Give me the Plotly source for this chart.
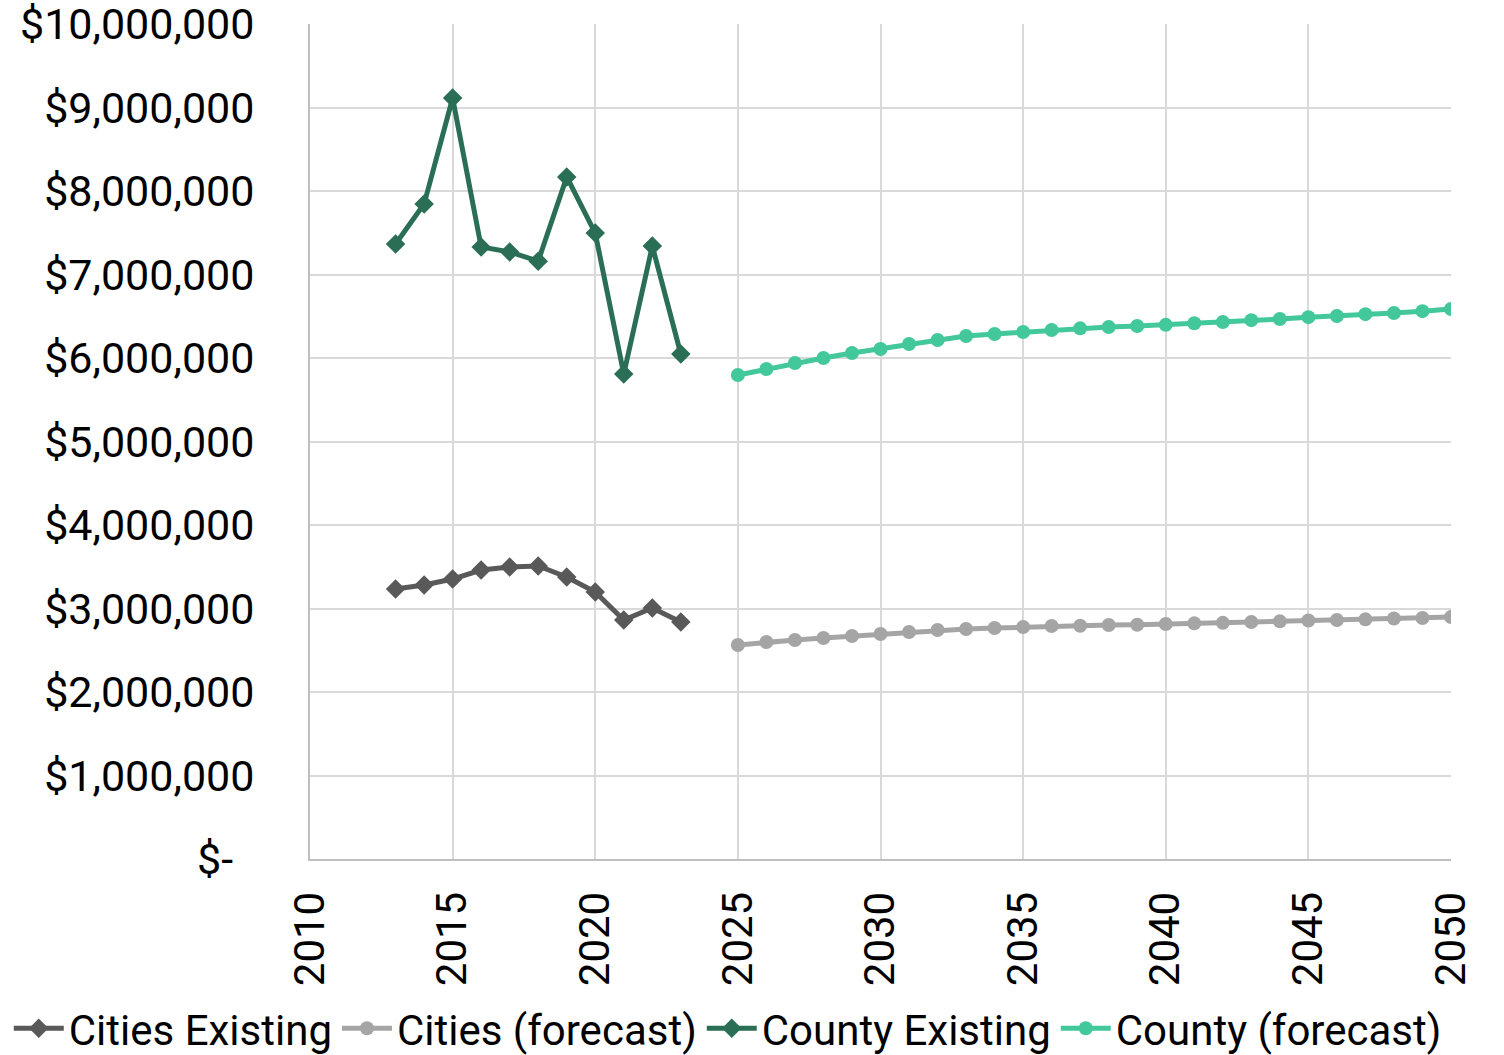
import plotly.graph_objects as go

years_existing = list(range(2013, 2024))
years_forecast = list(range(2025, 2051))

cities_existing = [3234000, 3281000, 3353000, 3461000, 3497000, 3509000, 3377000, 3198000, 2862000, 3006000, 2838000]
county_existing = [7365000, 7844000, 9114000, 7330000, 7270000, 7160000, 8168000, 7497000, 5808000, 7341000, 6048000]

cities_forecast = [2563000, 2599000, 2623000, 2647000, 2671000, 2695000, 2719000, 2743000, 2754000, 2766000,
                   2778000, 2790000, 2794000, 2802000, 2806000, 2814000, 2822000, 2828000, 2838000, 2846000,
                   2856000, 2862000, 2870000, 2880000, 2886000, 2898000]
county_forecast = [5796000, 5868000, 5940000, 6000000, 6060000, 6108000, 6168000, 6216000, 6263000, 6287000,
                   6311000, 6335000, 6355000, 6371000, 6383000, 6397000, 6417000, 6431000, 6453000, 6467000,
                   6489000, 6503000, 6525000, 6539000, 6561000, 6587000]

y_tickvals = [0, 1e6, 2e6, 3e6, 4e6, 5e6, 6e6, 7e6, 8e6, 9e6, 10e6]
y_ticktext = ["$-  ", "$1,000,000", "$2,000,000", "$3,000,000", "$4,000,000", "$5,000,000",
              "$6,000,000", "$7,000,000", "$8,000,000", "$9,000,000", "$10,000,000"]
x_tickvals = list(range(2010, 2051, 5))

FONT = "Roboto, sans-serif"

fig = go.Figure()
fig.add_trace(go.Scatter(x=years_existing, y=cities_existing, name="Cities Existing", mode="lines+markers",
                         line=dict(color="#595959", width=5),
                         marker=dict(symbol="diamond", size=15, color="#595959")))
fig.add_trace(go.Scatter(x=years_forecast, y=cities_forecast, name="Cities (forecast)", mode="lines+markers",
                         line=dict(color="#A5A5A5", width=5),
                         marker=dict(symbol="circle", size=14, color="#A5A5A5")))
fig.add_trace(go.Scatter(x=years_existing, y=county_existing, name="County Existing", mode="lines+markers",
                         line=dict(color="#2A6F55", width=5),
                         marker=dict(symbol="diamond", size=15, color="#2A6F55")))
fig.add_trace(go.Scatter(x=years_forecast, y=county_forecast, name="County (forecast)", mode="lines+markers",
                         line=dict(color="#43C89B", width=5),
                         marker=dict(symbol="circle", size=14, color="#43C89B")))

fig.update_layout(
    width=1504, height=1055,
    margin=dict(l=310, r=53, t=24, b=196, autoexpand=False),
    paper_bgcolor="white", plot_bgcolor="white",
    font=dict(family=FONT, size=42, color="black"),
    showlegend=True,
    legend=dict(orientation="h", x=-0.264, xanchor="left", y=-0.203, yanchor="middle",
                font=dict(size=42), itemwidth=50, tracegroupgap=0, bgcolor="rgba(0,0,0,0)"),
    xaxis=dict(range=[2010, 2050], tickvals=x_tickvals, tickangle=-90,
               showgrid=True, gridcolor="#D9D9D9", gridwidth=2,
               showline=True, linecolor="#BFBFBF", linewidth=2,
               ticks="", zeroline=False, tickfont=dict(size=42),
               ticklabelstandoff=14, ticklabeloverflow="allow"),
    yaxis=dict(range=[0, 10e6], tickvals=y_tickvals, ticktext=y_ticktext,
               showgrid=True, gridcolor="#D9D9D9", gridwidth=2,
               showline=True, linecolor="#BFBFBF", linewidth=2,
               ticks="", zeroline=False, tickfont=dict(size=43),
               ticklabelstandoff=45, ticklabeloverflow="allow"),
)

fig.write_html("out.html", config={"displayModeBar": False},
               post_script="document.body.style.margin='0px'; document.body.style.overflow='hidden';")
